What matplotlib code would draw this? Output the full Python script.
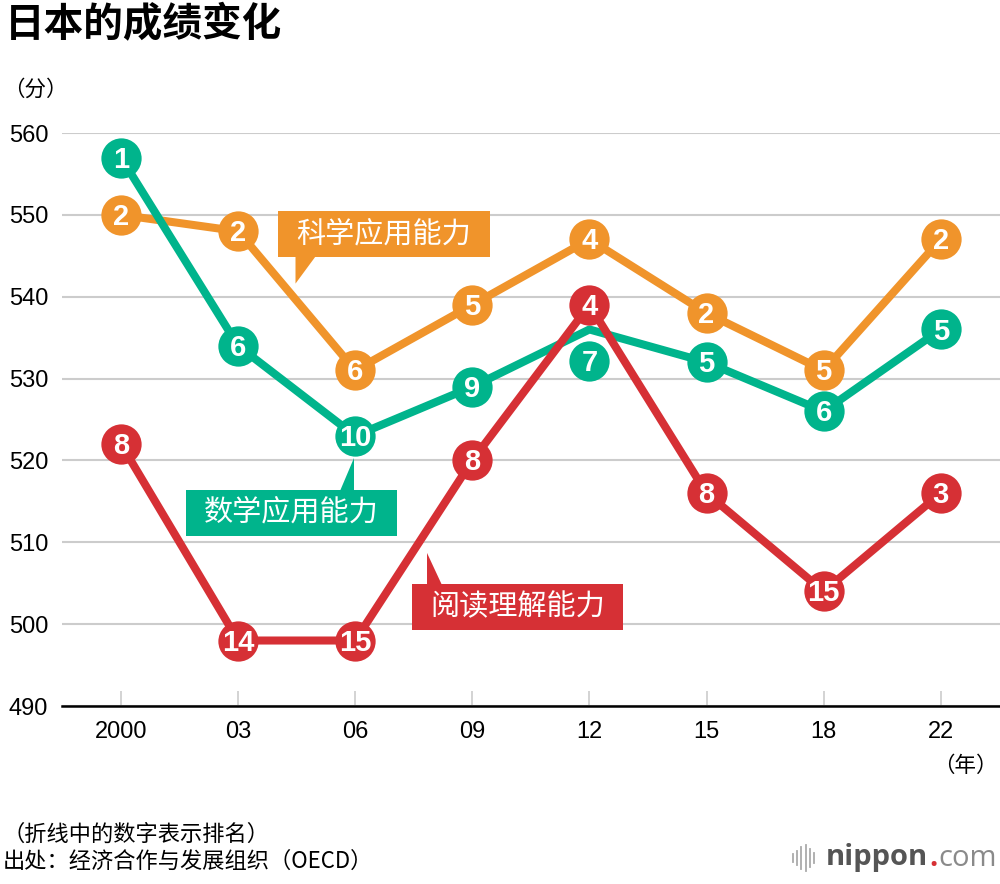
import matplotlib
matplotlib.use("Agg")
import matplotlib.pyplot as plt
from matplotlib.patches import Rectangle, Polygon
from matplotlib.lines import Line2D

# data
years = ["2000", "03", "06", "09", "12", "15", "18", "22"]
science = [550, 548, 531, 539, 547, 538, 531, 547]
science_rank = [2, 2, 6, 5, 4, 2, 5, 2]
math = [557, 534, 523, 529, 536, 532, 526, 536]
math_rank = [1, 6, 10, 9, 7, 5, 6, 5]
reading = [522, 498, 498, 520, 539, 516, 504, 516]
reading_rank = [8, 14, 15, 8, 4, 8, 15, 3]
yticks = [490, 500, 510, 520, 530, 540, 550, 560]

GREEN = "#00b48c"
ORANGE = "#f0942b"
RED = "#d63035"

CJK = ["Noto Sans CJK SC", "DejaVu Sans"]
NUM = ["Liberation Sans", "Noto Sans CJK SC", "DejaVu Sans"]
NARROW = ["Liberation Sans Narrow", "Liberation Sans", "DejaVu Sans"]
LOGO = ["Open Sans", "DejaVu Sans"]

fig = plt.figure(figsize=(10, 8.84), dpi=100)
ax = fig.add_axes([0.062, 1 - 706 / 884, 0.938, (706 - 133) / 884])

x = list(range(len(years)))


def draw_series(values, ranks, color, z, shift=None):
    shift = shift or {}
    ax.plot(x, values, color=color, lw=5.8, zorder=z, solid_joinstyle="round",
            solid_capstyle="round")
    my = [v + shift.get(i, 0) for i, v in enumerate(values)]
    ax.plot(x, my, "o", ms=29, color=color, mew=0, zorder=z + 0.5,
            clip_on=False)
    for xi, yi, r in zip(x, my, ranks):
        ax.text(xi, yi - 0.25, str(r), color="white", fontsize=21,
                fontweight="bold", family=NARROW, ha="center", va="center",
                zorder=z + 0.6)


draw_series(science, science_rank, ORANGE, 3)
draw_series(math, math_rank, GREEN, 5, shift={4: -3.9})
draw_series(reading, reading_rank, RED, 7)


def callout(text, color, box, base, tip):
    x0, x1, y0, y1 = box
    ax.add_patch(Rectangle((x0, y0), x1 - x0, y1 - y0, color=color, lw=0,
                           zorder=10))
    ax.add_patch(Polygon([base[0], base[1], tip], closed=True, color=color,
                         lw=0, zorder=10))
    ax.text((x0 + x1) / 2, (y0 + y1) / 2, text, color="white", fontsize=21,
            family=CJK, fontweight="medium", ha="center", va="center",
            zorder=11)


callout("科学应用能力", ORANGE, (1.34, 3.15, 544.8, 550.5),
        [(1.49, 544.9), (1.66, 544.9)], (1.49, 541.6))
callout("数学应用能力", GREEN, (0.555, 2.357, 510.8, 516.4),
        [(1.87, 516.3), (1.99, 516.3)], (1.99, 520.3))
callout("阅读理解能力", RED, (2.485, 4.287, 499.3, 504.9),
        [(2.613, 504.8), (2.74, 504.8)], (2.613, 508.7))

# axes styling
ax.set_xlim(-0.504, 7.506)
ax.set_ylim(490, 560)
ax.set_yticks(yticks)
ax.set_yticklabels([str(t) for t in yticks], family=NUM, fontsize=17)
ax.set_xticks(x)
ax.set_xticklabels(years, family=NUM, fontsize=17)
ax.tick_params(axis="y", length=0, pad=10)
ax.tick_params(axis="x", direction="in", length=11, width=1.2,
               color="#cccccc", pad=11)
ax.grid(axis="y", color="#cccccc", lw=1.5, zorder=0)
ax.set_axisbelow(True)
for s in ["top", "right", "left"]:
    ax.spines[s].set_visible(False)
ax.spines["bottom"].set_color("black")
ax.spines["bottom"].set_linewidth(1.8)
ax.spines["bottom"].set_zorder(2)

# texts
fig.text(0.005, 1 - 25 / 884, "日本的成绩变化", family=CJK, fontsize=28.5,
         fontweight="bold", va="center", ha="left")
fig.text(0.003, 1 - 90 / 884, "（分）", family=CJK, fontsize=15.5,
         va="center", ha="left")
fig.text(0.998, 1 - 766 / 884, "（年）", family=CJK, fontsize=15.5,
         va="center", ha="right")
fig.text(0.003, 1 - 834 / 884, "（折线中的数字表示排名）", family=CJK,
         fontsize=16, va="center", ha="left")
fig.text(0.003, 1 - 861 / 884, "出处：经济合作与发展组织（OECD）", family=CJK,
         fontsize=16, va="center", ha="left")

# logo, laid out right to left from the figure edge
renderer = fig.canvas.get_renderer()
yl = 1 - 858 / 884
right = 0.997
parts = [("com", "normal", "#8a8a8a"), (".", "bold", RED),
         ("nippon", "bold", "#555555")]
for txt, wt, col in parts:
    t = fig.text(right, yl, txt, family=LOGO, fontsize=21, fontweight=wt,
                 color=col, va="center", ha="right")
    bb = t.get_window_extent(renderer)
    right -= bb.width / 1000 + 0.001
bar_h = [8, 14, 22, 26, 18, 10]
x_start = right - 0.032
for i, h in enumerate(bar_h):
    xb = x_start + i * 0.0042
    fig.add_artist(Line2D([xb, xb], [yl - h / 2 / 884, yl + h / 2 / 884],
                          color="#aaaaaa", lw=1.3))

fig.savefig("out.png", dpi=100)
